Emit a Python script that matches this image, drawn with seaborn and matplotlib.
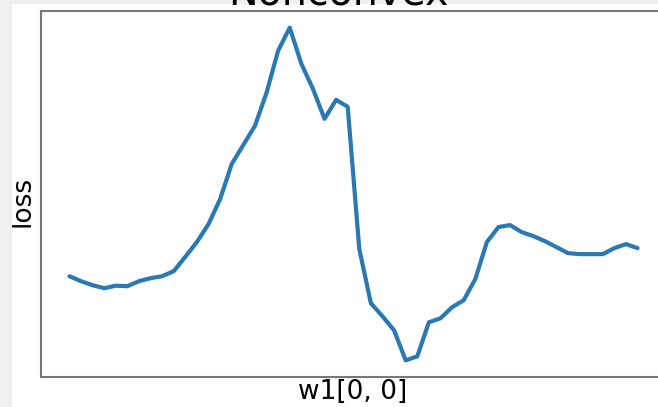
import numpy as np
import pandas as pd
import matplotlib
matplotlib.use("Agg")
import matplotlib.pyplot as plt
from matplotlib.patches import Rectangle
import seaborn as sns

# Data (evenly spaced scan of w1[0, 0])
step = list(range(50))
loss = [1.25, 1.20, 1.16, 1.13, 1.155, 1.15, 1.20, 1.23, 1.25, 1.30,
        1.444, 1.592, 1.77, 2.02, 2.37, 2.56, 2.75, 3.08, 3.50, 3.73,
        3.37, 3.12, 2.82, 3.01, 2.94, 1.52, 0.98, 0.85, 0.71, 0.41,
        0.45, 0.79, 0.83, 0.94, 1.01, 1.22, 1.59, 1.74, 1.76, 1.69,
        1.65, 1.60, 1.54, 1.48, 1.47, 1.47, 1.47, 1.53, 1.57, 1.53]
title = "Nonconvex"
xlabel = "w1[0, 0]"
ylabel = "loss"

sns.set_theme(style="white")
plt.rcParams['font.family'] = ['DejaVu Sans']

W, H = 658, 407
fig = plt.figure(figsize=(W / 100, H / 100), dpi=100)
fig.patch.set_facecolor("white")

# light gray screenshot border (left and top strips)
gray = "#eef0f2"
fig.patches.append(Rectangle((0, 0), 12 / W, 1, transform=fig.transFigure,
                             facecolor=gray, edgecolor="none", zorder=0))
fig.patches.append(Rectangle((0, 1 - 4 / H), 1, 4 / H, transform=fig.transFigure,
                             facecolor=gray, edgecolor="none", zorder=0))

left, right, top, bottom = 41, 666, 11, 377
ax = fig.add_axes([left / W, 1 - bottom / H, (right - left) / W, (bottom - top) / H])

df = pd.DataFrame({"step": step, "loss": loss})
sns.lineplot(data=df, x="step", y="loss", ax=ax, color="#2a78b4", linewidth=3.0)

ax.set_xticks([])
ax.set_yticks([])
for s in ax.spines.values():
    s.set_color("#777777")
    s.set_linewidth(1.5)
    s.set_visible(True)

ax.set_xlabel(xlabel, fontsize=19, color="black")
ax.set_ylabel(ylabel, fontsize=19, color="black")
ax.xaxis.set_label_coords((352.5 - left) / (right - left), -(392 - bottom) / (bottom - top) * 1.0)
ax.xaxis.label.set_va("center")
ax.yaxis.set_label_coords(-(41 - 23) / (right - left), (bottom - 201) / (bottom - top))
ax.yaxis.label.set_va("center")

fig.text(338 / W, 1 - 4.5 / H, title, fontsize=28.5, ha="center", va="baseline", color="black")

fig.savefig("out.png", dpi=100, facecolor=fig.get_facecolor())
